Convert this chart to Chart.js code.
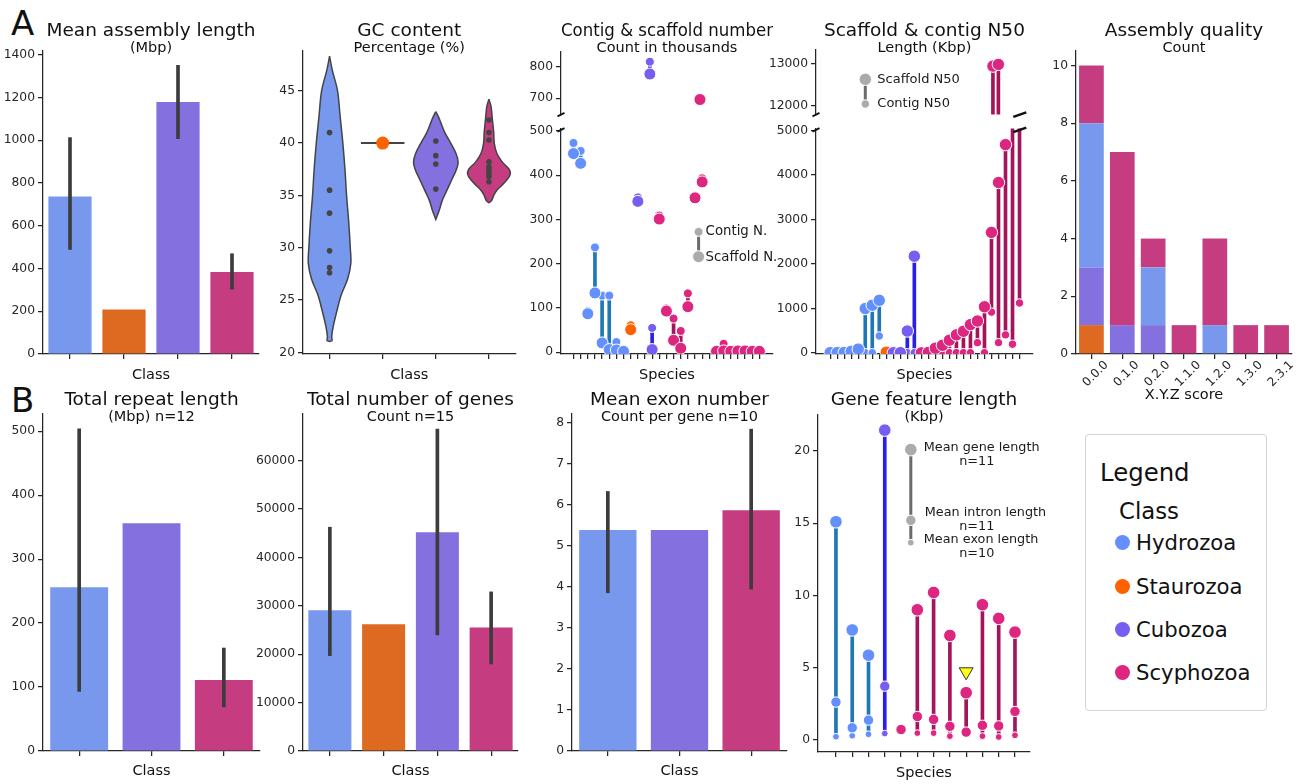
<!DOCTYPE html>
<html>
<head>
<meta charset="utf-8">
<title>Cnidarian genome assemblies</title>
<script src="https://cdn.jsdelivr.net/npm/chart.js@4.4.1/dist/chart.umd.min.js"></script>
<style>
  html, body { margin: 0; padding: 0; background: #fff; }
  body { position: relative; width: 1302px; height: 784px; overflow: hidden; font-family: "DejaVu Sans", sans-serif; color: #111; }
  canvas { position: absolute; }
  .tag { position: absolute; font-size: 34px; line-height: 34px; }
  #legendBox { position: absolute; left: 1085px; top: 434px; width: 182px; height: 277px; box-sizing: border-box; border: 1.3px solid #d4d4d4; border-radius: 4px; }
  #legendBox div { position: absolute; line-height: 1; white-space: nowrap; }
  #legendBox .dot { position: absolute; width: 15px; height: 15px; border-radius: 50%; }
</style>
</head>
<body>
<div class="tag" style="left:11px;top:6px">A</div>
<div class="tag" style="left:11px;top:383px">B</div>
<div id="legendBox"></div>
<script>
const INK = "#262626";
const ERR = "#3c3c3c";
const KEY = "#ababab";

const classes = ["Hydrozoa", "Staurozoa", "Cubozoa", "Scyphozoa"];
const dotColors = ["#648FFF", "#FE6100", "#785EF0", "#DC267F"];
const barColors = ["#7798EC", "#DE6920", "#8470DE", "#C53D80"];
const stemColors = ["#1F77B4", "#FE6100", "#2A1FE6", "#A3155B"];

// mean assembly length (Mbp) per class, with error bar ends
const asmMean = [736, 208, 1179, 384];
const asmLow = [489, null, 1007, 303];
const asmHigh = [1012, null, 1350, 469];
const asmTicks = [0, 200, 400, 600, 800, 1000, 1200, 1400];

// GC content (%) per genome
const gcHydrozoa = [41.0, 35.5, 33.3, 29.7, 28.1, 27.6];
const gcStaurozoa = [40.0];
const gcCubozoa = [40.2, 38.8, 38.0, 35.6];
const gcScyphozoa = [42.2, 41.0, 40.3, 38.2, 37.7, 37.4, 37.1, 36.8, 36.3];
const gcTicks = [20, 25, 30, 35, 40, 45];

// violin outlines: GC level and half width (category units)
const violinHydroY = [48.3, 47.0, 45.0, 42.5, 40.0, 37.5, 35.0, 32.5, 30.0, 28.5, 27.0, 25.5, 24.0, 22.5, 21.5, 21.1];
const violinHydroW = [0, 0.05, 0.15, 0.2, 0.25, 0.29, 0.32, 0.36, 0.39, 0.4, 0.34, 0.22, 0.14, 0.07, 0.04, 0.045];
const violinCuboY = [43.0, 42.5, 42.0, 41.0, 40.0, 39.0, 38.2, 37.5, 36.5, 35.5, 34.5, 33.5, 32.7];
const violinCuboW = [0, 0.05, 0.09, 0.17, 0.28, 0.38, 0.42, 0.39, 0.3, 0.21, 0.12, 0.06, 0];
const violinScyphoY = [44.2, 43.5, 42.5, 41.0, 40.0, 39.0, 38.2, 37.5, 37.0, 36.5, 36.0, 35.5, 35.0, 34.5, 34.3];
const violinScyphoW = [0, 0.04, 0.06, 0.09, 0.1, 0.15, 0.25, 0.38, 0.4, 0.34, 0.25, 0.15, 0.09, 0.05, 0];

// contig & scaffold number (thousands), one entry per species
const contigClass = [0,0,0,0,0,0,0,0,1,2,2,2,3,3,3,3,3,3,3,3,3,3,3,3,3,3,3];
const contigCount = [473, 455, 93, 237, 128, 128, 23, 3, 61, 350, 816, 55, 309, 99, 76, 48, 133, 353, 393, 700, 3, 19, 3, 4, 4, 3, 3];
const scaffoldCount = [449, 427, 87, 134, 21, 6, 5, 2, 51, 341, 777, 6, 301, 93, 27, 9, 103, 349, 385, 696, 2, 3, 2, 3, 3, 2, 2];
const countKey = {x: 17.5, contig: 272, scaffold: 216};
const countTicksHigh = [700, 800];
const countTicksLow = [0, 100, 200, 300, 400, 500];

// scaffold & contig N50 (Kbp)
const n50Class = [0,0,0,0,0,0,0,0,1,2,2,2,2,3,3,3,3,3,3,3,3,3,3,3,3,3,3,3];
const scaffoldN50 = [10, 12, 15, 40, 90, 1000, 1075, 1185, 20, 8, 10, 495, 2175, 5, 15, 110, 175, 290, 410, 490, 640, 720, 1040, 2710, 3830, 4680, 12945, 12985];
const contigN50 = [3, 3, 4, 5, 8, 10, 10, 385, 5, 4, 5, 10, 10, 3, 4, 5, 8, 10, 10, 10, 10, 235, 10, 920, 235, 410, 200, 1125];
const n50Key = {x: 2.6, scaffold: 12630, contig: 12040};
const n50TicksHigh = [12000, 13000];
const n50TicksLow = [0, 1000, 2000, 3000, 4000, 5000];

// assembly quality: number of assemblies per X.Y.Z score
const qualityScores = ["0.0.0", "0.1.0", "0.2.0", "1.1.0", "1.2.0", "1.3.0", "2.3.1"];
const qualStaurozoa = [1, 0, 0, 0, 0, 0, 0];
const qualCubozoa = [2, 1, 1, 0, 0, 0, 0];
const qualHydrozoa = [5, 0, 2, 0, 1, 0, 0];
const qualScyphozoa = [2, 6, 1, 1, 3, 1, 1];
const qualTicks = [0, 2, 4, 6, 8, 10];

// B: total repeat length (Mbp), classes without Staurozoa
const repeatClass = [0, 2, 3];
const repeatMean = [256, 356, 111];
const repeatLow = [93, null, 69];
const repeatHigh = [504, null, 161];
const repeatTicks = [0, 100, 200, 300, 400, 500];

// total number of genes
const genesMean = [29070, 26180, 45190, 25490];
const genesLow = [19700, null, 23970, 17980];
const genesHigh = [46220, null, 66470, 32860];
const genesTicks = [0, 10000, 20000, 30000, 40000, 50000, 60000];

// mean exon number per gene
const exonClass = [0, 2, 3];
const exonMean = [5.39, 5.39, 5.87];
const exonLow = [3.86, null, 3.95];
const exonHigh = [6.33, null, 7.85];
const exonTicks = [0, 1, 2, 3, 4, 5, 6, 7, 8];

// gene feature length (Kbp)
const geneClass = [0,0,0,2,3,3,3,3,3,3,3,3];
const geneLength = [15.1, 7.6, 5.85, 21.45, null, 9.0, 10.2, 7.22, 3.25, 9.35, 8.4, 7.45];
const intronLength = [2.6, 0.82, 1.35, 3.7, 0.7, 1.6, 1.4, 0.92, 0.52, 0.99, 0.95, 1.95];
const exonLength = [0.2, 0.27, 0.37, 0.42, null, 0.45, 0.45, 0.24, null, 0.24, 0.18, 0.3];
const flaggedSpecies = [8];
const flaggedValue = [4.7];
const geneKey = {x: 4.6, gene: 20.1, intron: 15.2, exon: 13.65};
const geneTicks = [0, 5, 10, 15, 20];

Chart.defaults.font.family = '"DejaVu Sans", sans-serif';
Chart.defaults.font.size = 12.3;
Chart.defaults.color = INK;
Chart.defaults.animation = false;
Chart.defaults.events = [];
Chart.defaults.plugins.legend.display = false;
Chart.defaults.plugins.tooltip.enabled = false;

function $(id){ return document.getElementById(id); }

function mount(left, top, right, bottom){
  const c = document.createElement("canvas");
  const w = right - left, h = bottom - top;
  c.width = w; c.height = h;
  c.style.left = left + "px"; c.style.top = top + "px";
  c.style.width = w + "px"; c.style.height = h + "px";
  document.body.appendChild(c);
  return c;
}

function fixedTicks(values){
  return s => { s.ticks = values.map(v => ({value: v})); };
}

function yAxis(min, max, ticks, width){
  return {
    type: "linear", min, max,
    border: {display: true, color: INK, width: 1.25},
    grid: {drawOnChartArea: false, drawTicks: true, tickLength: 5, color: INK, lineWidth: 1.25},
    ticks: {padding: 3, color: INK, callback: v => String(v)},
    afterBuildTicks: fixedTicks(ticks),
    afterFit: s => { s.width = width; }
  };
}

function xAxis(type, height, label, labelPad, extra){
  const ax = {
    type,
    border: {display: true, color: INK, width: 1.25},
    grid: {drawOnChartArea: false, drawTicks: true, tickLength: 5, color: INK, lineWidth: 1.25, offset: false},
    ticks: {display: false},
    title: {display: !!label, text: label || "", color: "#111", font: {size: 14.5, lineHeight: 1.2}, padding: {top: 0, bottom: labelPad}},
    afterFit: s => { s.height = height; }
  };
  return Object.assign(ax, extra || {});
}

function indexTicks(n){
  return fixedTicks(Array.from({length: n}, (_, i) => i));
}

function heads(main, sub, gap){
  return {
    title: {display: true, text: main, fullSize: false, color: "#111", font: {size: 18.5, weight: "normal", lineHeight: 1}, padding: {top: 0, bottom: 0}},
    subtitle: {display: true, text: sub, fullSize: false, color: "#111", font: {size: 14.5, weight: "normal", lineHeight: 1}, padding: {top: 0, bottom: gap}}
  };
}

function errRange(low, high){
  return low.map((lo, i) => lo == null ? null : [lo, high[i]]);
}

function classBars(canvas, cls, mean, low, high, main, sub, gap, yOpts, xHeight, labelPad, padRight){
  return new Chart(canvas, {
    type: "bar",
    data: {
      labels: cls.map(k => classes[k]),
      datasets: [
        {data: mean, backgroundColor: cls.map(k => barColors[k]), barPercentage: 1, categoryPercentage: 0.8, order: 1},
        {data: errRange(low, high), backgroundColor: ERR, barThickness: 3, grouped: false, order: 0}
      ]
    },
    options: {
      responsive: false,
      layout: {padding: {right: padRight}},
      plugins: heads(main, sub, gap),
      scales: {x: xAxis("category", xHeight, "Class", labelPad), y: yOpts}
    }
  });
}

function lollipops(cls, big, small, rBig, rSmall){
  return [
    {type: "scatter", data: big.map((v, i) => ({x: i, y: v})), backgroundColor: cls.map(k => dotColors[k]),
     borderColor: "#fff", borderWidth: 1, pointRadius: rBig, order: 0},
    {type: "scatter", data: small.map((v, i) => ({x: i, y: v})), backgroundColor: cls.map(k => dotColors[k]),
     borderColor: "#fff", borderWidth: 1, pointRadius: rSmall, order: 1},
    {type: "bar", data: cls.map((k, i) => ({x: i, y: [Math.min(big[i], small[i]), Math.max(big[i], small[i])]})),
     backgroundColor: cls.map(k => stemColors[k]), barThickness: 3, order: 2}
  ];
}

function keyMarks(x, values, radii){
  const sets = values.map((v, j) => ({type: "scatter", data: [{x, y: v}], backgroundColor: KEY,
    borderColor: "#fff", borderWidth: 1, pointRadius: radii[j], order: j}));
  sets.push({type: "line", data: [{x, y: values[0]}, {x, y: values[values.length - 1]}],
    borderColor: "#6b6b6b", borderWidth: 3, pointRadius: 0, order: 6});
  return sets;
}

function keyLabels(entries){
  return {
    id: "keyLabels",
    afterDatasetsDraw(chart){
      const {ctx, scales} = chart;
      ctx.save();
      ctx.fillStyle = "#1a1a1a";
      ctx.textBaseline = "middle";
      entries.forEach(e => {
        const px = scales.x.getPixelForValue(e.x), py = scales.y.getPixelForValue(e.y);
        ctx.font = e.size + 'px "DejaVu Sans", sans-serif';
        e.lines.forEach((line, j) => {
          ctx.textAlign = j === 0 ? "left" : "center";
          ctx.fillText(line, px + (j === 0 ? e.dx : e.dx2), py + e.dy + j * 14);
        });
      });
      ctx.restore();
    }
  };
}

function breakMarks(edge, withRight){
  return {
    id: "breakMarks",
    afterDraw(chart){
      const {ctx, chartArea: a} = chart;
      const y = edge === "bottom" ? a.bottom : a.top + 1.5;
      const mark = (cx, w, h) => {
        ctx.beginPath(); ctx.moveTo(cx - w / 2, y + h / 2); ctx.lineTo(cx + w / 2, y - h / 2); ctx.stroke();
      };
      ctx.save();
      ctx.strokeStyle = "#111"; ctx.lineWidth = 1.8;
      mark(a.left, 7, 3.5);
      if (withRight){ ctx.lineWidth = 2.6; mark(a.right - 13, 13, 4.5); }
      ctx.restore();
    }
  };
}

function violin(center, ys, ws){
  const right = ys.map((y, j) => ({x: center + ws[j], y}));
  const left = ys.map((y, j) => ({x: center - ws[j], y})).reverse();
  return right.concat(left);
}

// ---------- A1 mean assembly length
classBars(mount(0, 22, 263, 390), [0, 1, 2, 3], asmMean, asmLow, asmHigh,
  "Mean assembly length", "(Mbp)", -4, yAxis(0, 1417, asmTicks, 43), 36, 6, 4);

// ---------- A2 GC content
const gcPoints = [gcHydrozoa, gcStaurozoa, gcCubozoa, gcScyphozoa];
new Chart(mount(262, 22, 522, 390), {
  type: "scatter",
  data: {datasets: [
    {type: "line", data: violin(0, violinHydroY, violinHydroW), fill: "shape", backgroundColor: barColors[0], borderColor: "#444", borderWidth: 1.5, pointRadius: 0, tension: 0.35, order: 3},
    {type: "line", data: violin(2, violinCuboY, violinCuboW), fill: "shape", backgroundColor: barColors[2], borderColor: "#444", borderWidth: 1.5, pointRadius: 0, tension: 0.35, order: 3},
    {type: "line", data: violin(3, violinScyphoY, violinScyphoW), fill: "shape", backgroundColor: barColors[3], borderColor: "#444", borderWidth: 1.5, pointRadius: 0, tension: 0.35, order: 3},
    {type: "line", data: [{x: 0.59, y: gcStaurozoa[0]}, {x: 1.41, y: gcStaurozoa[0]}], borderColor: "#444", borderWidth: 2, pointRadius: 0, order: 2},
    {type: "scatter", data: [0, 2, 3].flatMap(k => gcPoints[k].map(v => ({x: k, y: v}))), backgroundColor: "#444", borderWidth: 0, pointRadius: 2.8, order: 1},
    {type: "scatter", data: gcStaurozoa.map(v => ({x: 1, y: v})), backgroundColor: dotColors[1], borderWidth: 0, pointRadius: 6.5, order: 0}
  ]},
  options: {
    responsive: false,
    layout: {padding: {right: 4}},
    plugins: heads("GC content", "Percentage (%)", -4),
    scales: {
      x: xAxis("linear", 36, "Class", 6, {min: -0.5, max: 3.5, afterBuildTicks: indexTicks(4)}),
      y: yAxis(19.84, 48.8, gcTicks, 41)
    }
  }
});

// ---------- A3 contig & scaffold number (broken axis)
const countSets = () => lollipops(contigClass, scaffoldCount, contigCount, 6, 4.5)
  .concat(keyMarks(countKey.x, [countKey.scaffold, countKey.contig], [6, 4.5]));
new Chart(mount(522, 22, 780, 125), {
  type: "scatter",
  data: {datasets: countSets()},
  options: {
    responsive: false,
    layout: {padding: {right: 4, bottom: 8}},
    plugins: heads("Contig & scaffold number", "Count in thousands", -3),
    scales: {
      x: {type: "linear", display: false, min: -1.2, max: 27.36},
      y: yAxis(648, 847, countTicksHigh, 39)
    }
  },
  plugins: [breakMarks("bottom", false)]
});
new Chart(mount(522, 118, 780, 390), {
  type: "scatter",
  data: {datasets: countSets()},
  options: {
    responsive: false,
    layout: {padding: {top: 10, right: 4}},
    scales: {
      x: xAxis("linear", 36, "Species", 6, {min: -1.2, max: 27.36, afterBuildTicks: indexTicks(contigClass.length)}),
      y: yAxis(-4, 506, countTicksLow, 39)
    }
  },
  plugins: [breakMarks("top", false), keyLabels([
    {x: countKey.x, y: countKey.contig, lines: ["Contig N."], dx: 7, dy: 0, size: 13.3},
    {x: countKey.x, y: countKey.scaffold, lines: ["Scaffold N."], dx: 7, dy: 1, size: 13.3}
  ])]
});

// ---------- A4 scaffold & contig N50 (broken axis)
const n50Sets = () => lollipops(n50Class, scaffoldN50, contigN50, 6.2, 4.2)
  .concat(keyMarks(n50Key.x, [n50Key.scaffold, n50Key.contig], [6.2, 4.2]));
new Chart(mount(760, 22, 1040, 125), {
  type: "scatter",
  data: {datasets: n50Sets()},
  options: {
    responsive: false,
    layout: {padding: {right: 7, bottom: 8}},
    plugins: heads("Scaffold & contig N50", "Length (Kbp)", -5),
    scales: {
      x: {type: "linear", display: false, min: -1.47, max: 28.34},
      y: yAxis(11786, 13330, n50TicksHigh, 56)
    }
  },
  plugins: [breakMarks("bottom", true), keyLabels([
    {x: n50Key.x, y: n50Key.scaffold, lines: ["Scaffold N50"], dx: 12, dy: 0, size: 13},
    {x: n50Key.x, y: n50Key.contig, lines: ["Contig N50"], dx: 12, dy: 0, size: 13}
  ])]
});
new Chart(mount(760, 118, 1040, 390), {
  type: "scatter",
  data: {datasets: n50Sets()},
  options: {
    responsive: false,
    layout: {padding: {top: 10, right: 7}},
    scales: {
      x: xAxis("linear", 36, "Species", 6, {min: -1.47, max: 28.34, afterBuildTicks: indexTicks(n50Class.length)}),
      y: yAxis(-20, 5045, n50TicksLow, 56)
    }
  },
  plugins: [breakMarks("top", true)]
});

// ---------- A5 assembly quality
const qualStack = [[qualStaurozoa, 1], [qualCubozoa, 2], [qualHydrozoa, 0], [qualScyphozoa, 3]];
new Chart(mount(1040, 22, 1300, 410), {
  type: "bar",
  data: {
    labels: qualityScores,
    datasets: qualStack.map(([vals, k]) => ({label: classes[k], data: vals, backgroundColor: barColors[k], barPercentage: 1, categoryPercentage: 0.8}))
  },
  options: {
    responsive: false,
    layout: {padding: {right: 8}},
    plugins: heads("Assembly quality", "Count", -4),
    scales: {
      x: xAxis("category", 56, "X.Y.Z score", 6.5, {stacked: true,
        ticks: {display: true, autoSkip: false, minRotation: 45, maxRotation: 45, padding: -1, labelOffset: 15, color: INK, font: {size: 12}}}),
      y: Object.assign(yAxis(0, 10.5, qualTicks, 36), {stacked: true})
    }
  }
});

// ---------- B1 total repeat length
classBars(mount(0, 391, 264, 784), repeatClass, repeatMean, repeatLow, repeatHigh,
  "Total repeat length", "(Mbp) n=12", -10, yAxis(0, 527, repeatTicks, 43), 33, 3.8, 4);

// ---------- B2 total number of genes
classBars(mount(250, 391, 522, 784), [0, 1, 2, 3], genesMean, genesLow, genesHigh,
  "Total number of genes", "Count n=15", -10, yAxis(0, 69600, genesTicks, 53), 33, 3.8, 4);

// ---------- B3 mean exon number
classBars(mount(530, 391, 791, 784), exonClass, exonMean, exonLow, exonHigh,
  "Mean exon number", "Count per gene n=10", -10, yAxis(0, 8.22, exonTicks, 42), 33, 3.8, 4);

// ---------- B4 gene feature length
const geneLow = geneClass.map((k, i) => exonLength[i] ?? intronLength[i]);
const geneHigh = geneClass.map((k, i) => geneLength[i] ?? intronLength[i]);
new Chart(mount(790, 391, 1062, 784), {
  type: "scatter",
  data: {datasets: [
    {type: "scatter", data: geneLength.map((v, i) => ({x: i, y: v})), backgroundColor: geneClass.map(k => dotColors[k]), borderColor: "#fff", borderWidth: 1, pointRadius: 6.3, order: 0},
    {type: "scatter", data: intronLength.map((v, i) => ({x: i, y: v})), backgroundColor: geneClass.map(k => dotColors[k]), borderColor: "#fff", borderWidth: 1, pointRadius: 5.2, order: 1},
    {type: "scatter", data: exonLength.map((v, i) => ({x: i, y: v})), backgroundColor: geneClass.map(k => dotColors[k]), borderColor: "#fff", borderWidth: 1, pointRadius: 3.4, order: 2},
    {type: "bar", data: geneClass.map((k, i) => ({x: i, y: [geneLow[i], geneHigh[i]]})), backgroundColor: geneClass.map(k => stemColors[k]), barThickness: 3, order: 3},
    {type: "scatter", data: flaggedSpecies.map((s, j) => ({x: s, y: flaggedValue[j]})), pointStyle: "triangle", rotation: 180,
     backgroundColor: "#FFFF14", borderColor: "#333", borderWidth: 1, pointRadius: 8, order: 0}
  ].concat(keyMarks(geneKey.x, [geneKey.gene, geneKey.intron, geneKey.exon], [6.3, 5.2, 3.4]))},
  options: {
    responsive: false,
    layout: {padding: {right: 32}},
    plugins: heads("Gene feature length", "(Kbp)", -9),
    scales: {
      x: xAxis("linear", 32, "Species", 2.3, {min: -0.56, max: 11.38, afterBuildTicks: indexTicks(geneClass.length)}),
      y: yAxis(-0.86, 22.5, geneTicks, 28)
    }
  },
  plugins: [keyLabels([
    {x: geneKey.x, y: geneKey.gene, lines: ["Mean gene length", "n=11"], dx: 13, dx2: 66, dy: -1.5, size: 12.8},
    {x: geneKey.x, y: geneKey.intron, lines: ["Mean intron length", "n=11"], dx: 14, dx2: 66, dy: -8, size: 12.8},
    {x: geneKey.x, y: geneKey.exon, lines: ["Mean exon length", "n=10"], dx: 13, dx2: 66, dy: -3, size: 12.8}
  ])]
});

// ---------- class legend
function buildLegend(){
  const box = $("legendBox");
  const add = (text, left, top, size) => {
    const d = document.createElement("div");
    d.textContent = text; d.style.left = left + "px"; d.style.top = top + "px"; d.style.fontSize = size + "px";
    box.appendChild(d);
  };
  add("Legend", 14, 26, 24.4);
  add("Class", 33, 65, 22.8);
  classes.forEach((name, k) => {
    const top = 97.4 + k * 43.3;
    add(name, 50, top, 21.2);
    const dot = document.createElement("span");
    dot.className = "dot"; dot.style.background = dotColors[k];
    dot.style.left = "29px"; dot.style.top = (top + 3) + "px";
    box.appendChild(dot);
  });
}
buildLegend();
</script>
</body>
</html>
